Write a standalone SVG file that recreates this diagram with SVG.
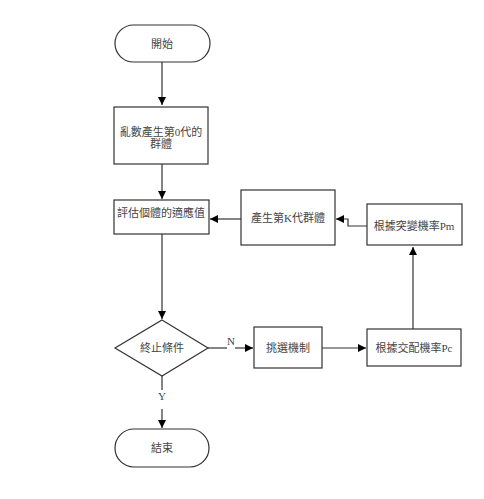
<svg xmlns="http://www.w3.org/2000/svg" width="484" height="499" viewBox="0 0 484 499">
<defs>
<marker id="ah" markerWidth="8" markerHeight="8" refX="8" refY="4" orient="auto" markerUnits="userSpaceOnUse">
<path d="M0,0 L8,4 L0,8 Z" fill="#000"/>
</marker>
<style>
.shape{fill:#fff;stroke:#333;stroke-width:1.2}
.t{font-family:"Liberation Serif","Noto Sans CJK TC",serif;font-size:11px;fill:#444;text-anchor:middle;dominant-baseline:central}
.c{fill:none;stroke:#333;stroke-width:1.2}
</style>
</defs>
<rect width="484" height="499" fill="#fff"/>
<g id="connectors">
<path class="c" d="M162,62 V105" marker-end="url(#ah)"/>
<path class="c" d="M162,164 V199" marker-end="url(#ah)"/>
<path class="c" d="M162,234 V319" marker-end="url(#ah)"/>
<path class="c" d="M241,219 H210" marker-end="url(#ah)"/>
<path class="c" d="M367,226 H348 V219 H336" marker-end="url(#ah)"/>
<path class="c" d="M413,329 V247" marker-end="url(#ah)"/>
<path class="c" d="M322,348 H366" marker-end="url(#ah)"/>
<path class="c" d="M208,348 H227"/>
<path class="c" d="M235,348 H253" marker-end="url(#ah)"/>
<path class="c" d="M162,376 V390"/>
<path class="c" d="M162,409 V428" marker-end="url(#ah)"/>
<text class="t" x="231" y="341">N</text>
<text class="t" x="162" y="396">Y</text>
</g>
<g id="start">
<rect class="shape" x="115" y="25" width="95" height="37" rx="18.5"/>
<text class="t" x="162" y="44">開始</text>
</g>
<g id="init">
<rect class="shape" x="114" y="107" width="94" height="57"/>
<text class="t" x="161" y="132">亂數產生第0代的</text>
<text class="t" x="161" y="144">群體</text>
</g>
<g id="eval">
<rect class="shape" x="114" y="200" width="95" height="34"/>
<text class="t" x="161" y="213">評估個體的適應值</text>
</g>
<g id="genk">
<rect class="shape" x="241" y="190" width="94" height="55"/>
<text class="t" x="288" y="218">產生第K代群體</text>
</g>
<g id="mutation">
<rect class="shape" x="367" y="204" width="95" height="41"/>
<text class="t" x="414" y="226">根據突變機率Pm</text>
</g>
<g id="cond">
<polygon class="shape" points="162,320 208,348 162,376 115,348"/>
<text class="t" x="162" y="348">終止條件</text>
</g>
<g id="select">
<rect class="shape" x="254" y="327" width="68" height="41"/>
<text class="t" x="288" y="348">挑選機制</text>
</g>
<g id="crossover">
<rect class="shape" x="367" y="329" width="94" height="37"/>
<text class="t" x="414" y="348">根據交配機率Pc</text>
</g>
<g id="end">
<rect class="shape" x="115" y="429" width="94" height="38" rx="19"/>
<text class="t" x="162" y="448">結束</text>
</g>
</svg>
